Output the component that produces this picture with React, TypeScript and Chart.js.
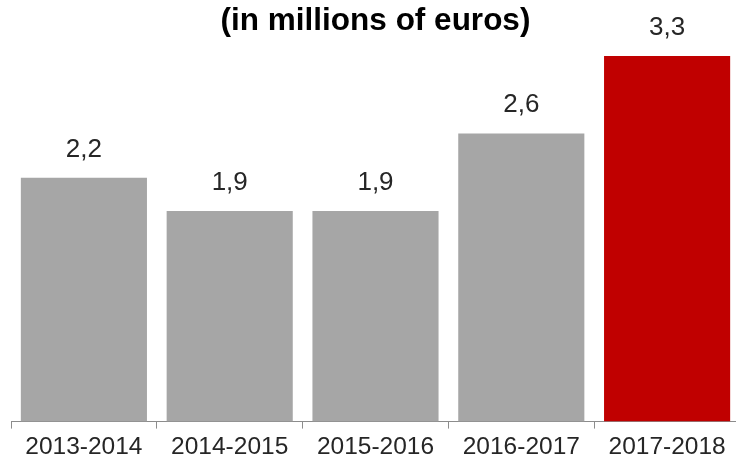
import React, { useEffect, useRef } from "react";
import { Chart, registerables } from "chart.js";

Chart.register(...registerables);

const categories = ["2013-2014", "2014-2015", "2015-2016", "2016-2017", "2017-2018"];
const values = [2.2, 1.9, 1.9, 2.6, 3.3];
const valueLabels = ["2,2", "1,9", "1,9", "2,6", "3,3"];
const barColors = ["#A6A6A6", "#A6A6A6", "#A6A6A6", "#A6A6A6", "#C00000"];
const titleText = "(in millions of euros)";

const valueLabelPlugin = {
  id: "valueLabels",
  afterDatasetsDraw(chart: any) {
    const ctx = chart.ctx;
    const meta = chart.getDatasetMeta(0);
    ctx.save();
    ctx.font = "26px 'Liberation Sans', Arial, sans-serif";
    ctx.fillStyle = "#262626";
    ctx.textAlign = "center";
    ctx.textBaseline = "alphabetic";
    meta.data.forEach((bar: any, i: number) => {
      ctx.fillText(valueLabels[i], bar.x, bar.y - 21);
    });
    ctx.restore();
  },
};

export default function App() {
  const ref = useRef<HTMLCanvasElement | null>(null);
  useEffect(() => {
    document.body.style.overflow = "hidden";
    if (!ref.current) return;
    const chart = new Chart(ref.current, {
      type: "bar",
      data: {
        labels: categories,
        datasets: [
          {
            data: values,
            backgroundColor: barColors,
            borderWidth: 0,
            barPercentage: 0.865,
            categoryPercentage: 1,
          },
        ],
      },
      options: {
        animation: false,
        responsive: true,
        maintainAspectRatio: false,
        layout: { padding: { left: 11, right: 12, top: 0, bottom: 2 } },
        plugins: {
          legend: { display: false },
          tooltip: { enabled: false },
          title: {
            display: true,
            text: titleText,
            color: "#000000",
            font: { family: "'Liberation Sans', Arial, sans-serif", size: 31.5, weight: "bold" },
            padding: { top: 2, bottom: 5 },
          },
        },
        scales: {
          x: {
            grid: {
              display: true,
              drawOnChartArea: false,
              drawTicks: true,
              tickLength: 7,
              color: "#8C8C8C",
              offset: true,
            },
            border: { display: true, color: "#8C8C8C", width: 1 },
            ticks: {
              color: "#262626",
              font: { family: "'Liberation Sans', Arial, sans-serif", size: 24.5 },
              padding: 4,
              maxRotation: 0,
              autoSkip: false,
            },
          },
          y: {
            display: false,
            min: 0,
            max: 3.4,
          },
        },
      },
      plugins: [valueLabelPlugin],
    });
    return () => chart.destroy();
  }, []);
  return (
    <div style={{ position: "fixed", left: 0, top: 0, width: 752, height: 468 }}>
      <canvas ref={ref} />
    </div>
  );
}
